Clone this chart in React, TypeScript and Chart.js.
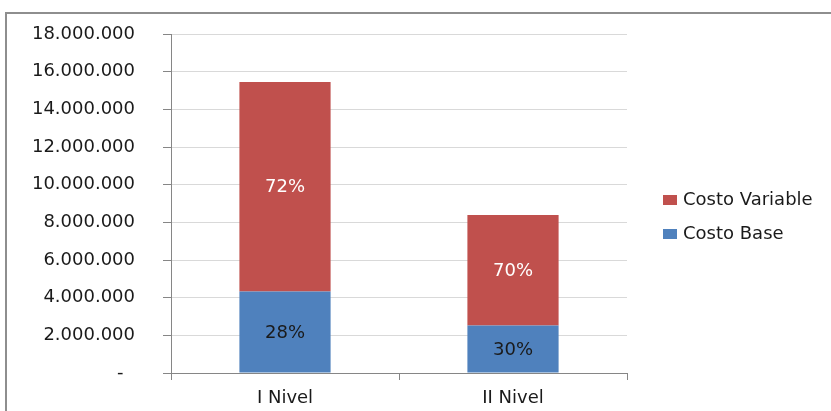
import React, { useEffect, useRef } from "react";
import { Chart, registerables } from "chart.js";

Chart.register(...registerables);

const categories = ["I Nivel", "II Nivel"];
const costoBase = [4330000, 2520000];
const costoVariable = [11120000, 5870000];
const yTicks = [0, 2000000, 4000000, 6000000, 8000000, 10000000, 12000000, 14000000, 16000000, 18000000];

const FONT = "'DejaVu Sans', sans-serif";
const BLUE = "#4F81BD";
const RED = "#C0504D";
const AXIS = "#868686";
const GRID = "#d9d9d9";

const formatMiles = (v: number) =>
  v === 0 ? "-  " : String(Math.round(v)).replace(/\B(?=(\d{3})+(?!\d))/g, ".");

// Percentage of each segment within its stacked column
const segmentLabels: any = {
  id: "segmentLabels",
  afterDatasetsDraw(chart: any) {
    const ctx = chart.ctx;
    ctx.save();
    ctx.font = `18px ${FONT}`;
    ctx.textAlign = "center";
    ctx.textBaseline = "middle";
    chart.data.datasets.forEach((ds: any, di: number) => {
      const meta = chart.getDatasetMeta(di);
      meta.data.forEach((bar: any, i: number) => {
        const total = costoBase[i] + costoVariable[i];
        const pct = Math.round((ds.data[i] / total) * 100);
        const { x, y, base } = bar.getProps(["x", "y", "base"], true);
        ctx.fillStyle = di === 1 ? "#ffffff" : "#1a1a1a";
        ctx.fillText(`${pct}%`, x, (y + base) / 2 + 1);
      });
    });
    ctx.restore();
  },
};

// Legend on the right, listed top to bottom as the stack reads
const sideLegend: any = {
  id: "sideLegend",
  afterDraw(chart: any) {
    const ctx = chart.ctx;
    const items = [...chart.data.datasets].reverse();
    ctx.save();
    ctx.font = `18px ${FONT}`;
    ctx.textBaseline = "middle";
    ctx.textAlign = "left";
    items.forEach((ds: any, k: number) => {
      const cy = 200 + k * 34;
      ctx.fillStyle = ds.backgroundColor;
      ctx.fillRect(663, cy - 5, 14, 10);
      ctx.fillStyle = "#1a1a1a";
      ctx.fillText(ds.label, 683, cy);
    });
    ctx.restore();
  },
};

export default function App() {
  const ref = useRef<HTMLCanvasElement | null>(null);

  useEffect(() => {
    if (!ref.current) return;
    const chart = new Chart(ref.current, {
      type: "bar",
      data: {
        labels: categories,
        datasets: [
          { label: "Costo Base", data: costoBase, backgroundColor: BLUE, barPercentage: 0.4, categoryPercentage: 1 },
          { label: "Costo Variable", data: costoVariable, backgroundColor: RED, barPercentage: 0.4, categoryPercentage: 1 },
        ],
      },
      options: {
        animation: false,
        responsive: false,
        devicePixelRatio: 1,
        layout: { padding: { left: 0, top: 34, right: 204, bottom: 0 } },
        plugins: { legend: { display: false }, tooltip: { enabled: false }, title: { display: false } },
        scales: {
          x: {
            stacked: true,
            afterFit: (s: any) => {
              s.height = 38;
              s.paddingLeft = 0;
              s.paddingRight = 0;
            },
            grid: { display: true, drawOnChartArea: false, drawTicks: true, tickLength: 7, tickColor: AXIS, offset: true },
            border: { display: true, color: AXIS, width: 1 },
            ticks: { color: "#1a1a1a", font: { family: FONT, size: 18 }, padding: 8, maxRotation: 0 },
          },
          y: {
            stacked: true,
            min: 0,
            max: 18000000,
            afterFit: (s: any) => {
              s.width = 171;
              s.paddingTop = 0;
              s.paddingBottom = 0;
            },
            afterBuildTicks: (s: any) => {
              s.ticks = yTicks.map((v) => ({ value: v }));
            },
            grid: {
              color: (c: any) => (c.tick && c.tick.value === 0 ? AXIS : GRID),
              tickColor: AXIS,
              tickLength: 8,
              drawTicks: true,
            },
            border: { display: true, color: AXIS, width: 1 },
            ticks: {
              color: "#1a1a1a",
              font: { family: FONT, size: 18 },
              padding: 28,
              callback: (v: any) => formatMiles(Number(v)),
            },
          },
        },
      },
      plugins: [segmentLabels, sideLegend],
    });
    return () => chart.destroy();
  }, []);

  return (
    <div style={{ position: "fixed", left: 0, top: 0, width: 831, height: 411, overflow: "hidden", background: "#fff" }}>
      <div
        style={{
          position: "absolute",
          left: 5,
          top: 12,
          width: 900,
          height: 500,
          borderLeft: "2px solid #8e8e8e",
          borderTop: "2px solid #8e8e8e",
        }}
      />
      <canvas ref={ref} width={831} height={411} style={{ position: "absolute", left: 0, top: 0, width: 831, height: 411 }} />
    </div>
  );
}
